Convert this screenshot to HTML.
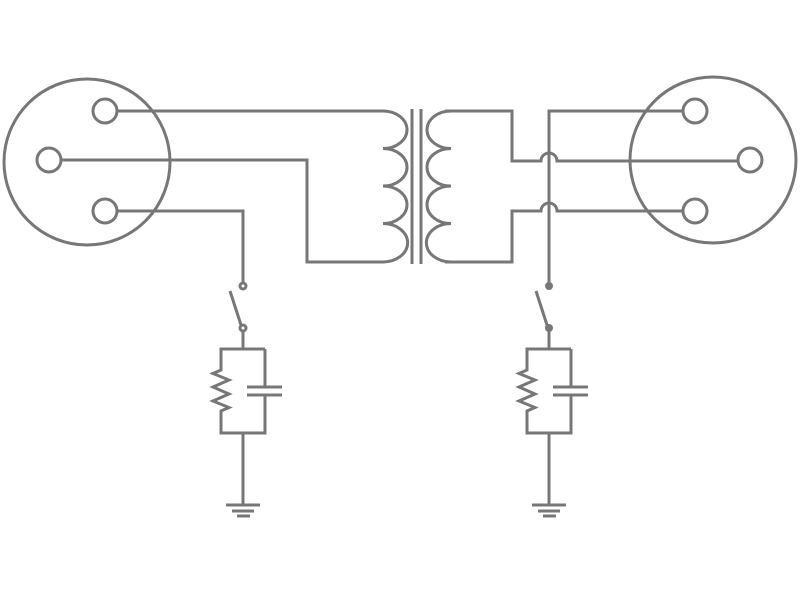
<!DOCTYPE html>
<html><head><style>html,body{margin:0;padding:0;background:#fff}svg{display:block}</style></head>
<body>
<svg width="800" height="600" viewBox="0 0 800 600" xmlns="http://www.w3.org/2000/svg">
<g fill="none" stroke="#777" stroke-width="3">
<circle cx="87" cy="162" r="83"/>
<circle cx="105" cy="111" r="12"/>
<circle cx="49" cy="160" r="12"/>
<circle cx="105" cy="211" r="12"/>
<circle cx="713" cy="160" r="83"/>
<circle cx="695" cy="111" r="12"/>
<circle cx="750" cy="160" r="12"/>
<circle cx="695" cy="211" r="12"/>
<path d="M117 111 H385"/>
<path d="M61 160 H307 V262 H385"/>
<path d="M117 211 H243 V283"/>
<path d="M383 111 A24 18.75 0 0 1 383 148.5 A24 18.75 0 0 1 383 186 A24 18.75 0 0 1 383 223.5 A24 18.75 0 0 1 383 262"/>
<path d="M412 109 V264 M421 109 V264"/>
<path d="M451 111 A24 18.75 0 0 0 451 148.5 A24 18.75 0 0 0 451 186 A24 18.75 0 0 0 451 223.5 A24 18.75 0 0 0 451 262"/>
<path d="M445 111 H512 V161 H541 A8 8 0 0 1 557 161 H738"/>
<path d="M445 262 H512 V211 H541 A8 8 0 0 1 557 211 H683"/>
<path d="M683 111 H549 V286"/>
<circle cx="243" cy="286" r="3"/>
<circle cx="243" cy="328" r="3"/>
<path d="M230 291 L241 325"/>
<path d="M243 331 V349 H221 V370 L213 373.5 L229 380 L213 387 L229 394 L213 401 L229 407.5 L221 411 V433 H265 V395 M265 349 H243 M265 349 V387 M247 387 H282 M247 395 H282"/>
<path d="M243 433 V505 M226 505 H260 M232 511 H254 M237 516 H250"/>
<path d="M536 291 L547 325"/>
<path d="M549 328 V349 H527 V370 L519 373.5 L535 380 L519 387 L535 394 L519 401 L535 407.5 L527 411 V433 H571 V395 M571 349 H549 M571 349 V387 M553 387 H588 M553 395 H588"/>
<path d="M549 433 V505 M532 505 H566 M538 511 H560 M543 516 H556"/>
</g>
<g fill="#777">
<circle cx="549" cy="286" r="4"/>
<circle cx="549" cy="328" r="4"/>
</g>
</svg>
</body></html>
